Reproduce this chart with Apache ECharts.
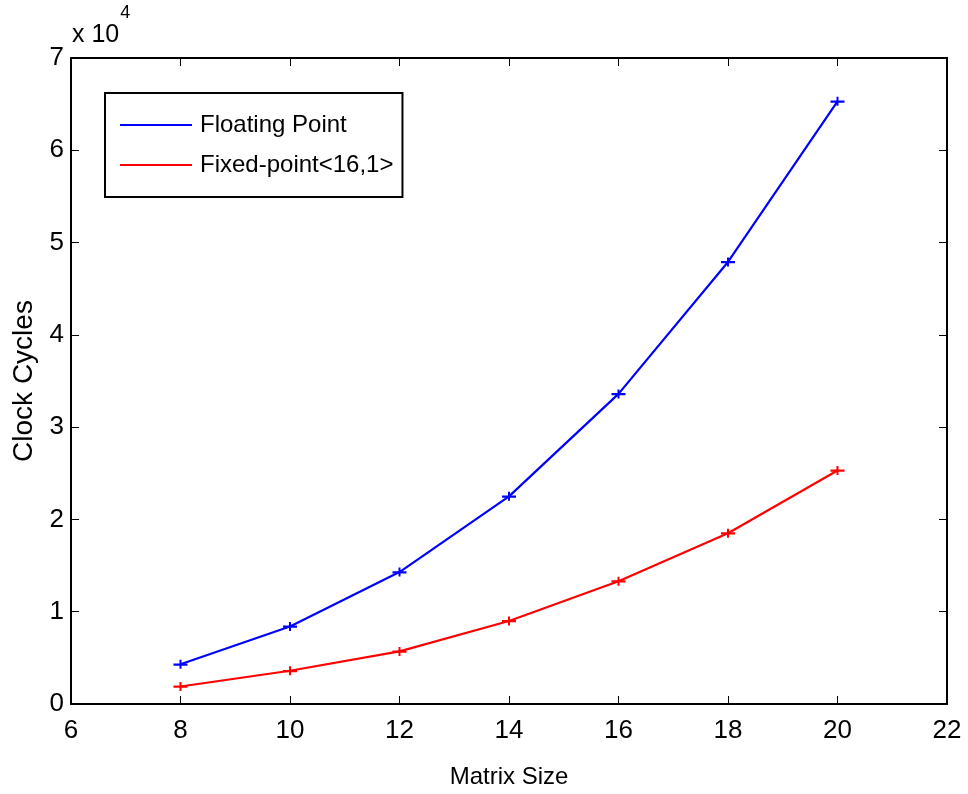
<!DOCTYPE html>
<html>
<head>
<meta charset="utf-8">
<script src="https://cdn.jsdelivr.net/npm/echarts@6/dist/echarts.min.js"></script>
<style>
  html, body { margin: 0; padding: 0; background: #fff; }
  #main { width: 968px; height: 794px; }
</style>
</head>
<body>
<div id="main"></div>
<script>
// matrix sizes on the x axis
var matrixSize = [8, 10, 12, 14, 16, 18, 20];
// clock cycles, in units of 10^4
var floatingPoint = [0.43, 0.84, 1.43, 2.25, 3.36, 4.79, 6.53];
var fixedPoint = [0.19, 0.36, 0.57, 0.90, 1.33, 1.85, 2.53];

var FONT = '"Liberation Sans", Arial, sans-serif';
var plus = 'path://M0,4H14V6.5H0Z M6,0H8V10H6Z';

function pairs(ys) {
  return matrixSize.map(function (x, i) { return [x, ys[i]]; });
}

var chart = echarts.init(document.getElementById('main'));
chart.setOption({
  animation: false,
  backgroundColor: '#fff',
  textStyle: { fontFamily: FONT, color: '#000' },
  grid: { left: 71, right: 21, top: 58, bottom: 88 },
  legend: {
    orient: 'vertical',
    left: 105,
    top: 93,
    padding: [19, 9, 19, 15],
    itemGap: 14,
    itemWidth: 72,
    itemHeight: 2,
    icon: 'rect',
    borderColor: '#000',
    borderWidth: 2,
    textStyle: { fontFamily: FONT, fontSize: 24, lineHeight: 26, color: '#000', padding: [0, 0, 0, 3] },
    data: ['Floating Point', 'Fixed-point<16,1>']
  },
  xAxis: [{
    type: 'value', min: 6, max: 22, interval: 2,
    name: 'Matrix Size', nameLocation: 'middle', nameGap: 61,
    nameTextStyle: { fontFamily: FONT, fontSize: 24, color: '#000' },
    axisLine: { onZero: false, lineStyle: { color: '#000', width: 2 } },
    axisTick: { inside: true, length: 8, lineStyle: { color: '#000' } },
    axisLabel: { fontFamily: FONT, fontSize: 26, color: '#000', margin: 14 },
    splitLine: { show: false }
  }, {
    type: 'value', position: 'top', min: 6, max: 22, interval: 2,
    axisLine: { onZero: false, lineStyle: { color: '#000', width: 2 } },
    axisTick: { inside: true, length: 8, lineStyle: { color: '#000' } },
    axisLabel: { show: false },
    splitLine: { show: false }
  }],
  yAxis: [{
    type: 'value', min: 0, max: 7, interval: 1,
    name: 'Clock Cycles', nameLocation: 'middle', nameGap: 33,
    nameTextStyle: { fontFamily: FONT, fontSize: 28, color: '#000' },
    axisLine: { onZero: false, lineStyle: { color: '#000', width: 2 } },
    axisTick: { inside: true, length: 8, lineStyle: { color: '#000' } },
    axisLabel: { fontFamily: FONT, fontSize: 26, color: '#000', margin: 7 },
    splitLine: { show: false }
  }, {
    type: 'value', position: 'right', min: 0, max: 7, interval: 1,
    axisLine: { onZero: false, lineStyle: { color: '#000', width: 2 } },
    axisTick: { inside: true, length: 8, lineStyle: { color: '#000' } },
    axisLabel: { show: false },
    splitLine: { show: false }
  }],
  graphic: [{
    type: 'text', left: 72, top: 4,
    style: {
      text: '{b|x 10}{s|4}',
      rich: {
        b: { fontFamily: FONT, fontSize: 25, color: '#000', verticalAlign: 'bottom', lineHeight: 44 },
        s: { fontFamily: FONT, fontSize: 18, color: '#000', verticalAlign: 'top', lineHeight: 44, padding: [0, 0, 16, 1] }
      }
    }
  }],
  series: [{
    name: 'Floating Point', type: 'line',
    data: pairs(floatingPoint),
    symbol: plus, symbolSize: [14, 9], showAllSymbol: true,
    lineStyle: { color: '#0000ff', width: 2.2 },
    itemStyle: { color: '#0000ff' }
  }, {
    name: 'Fixed-point<16,1>', type: 'line',
    data: pairs(fixedPoint),
    symbol: plus, symbolSize: [14, 9], showAllSymbol: true,
    lineStyle: { color: '#ff0000', width: 2.2 },
    itemStyle: { color: '#ff0000' }
  }]
});
</script>
</body>
</html>
